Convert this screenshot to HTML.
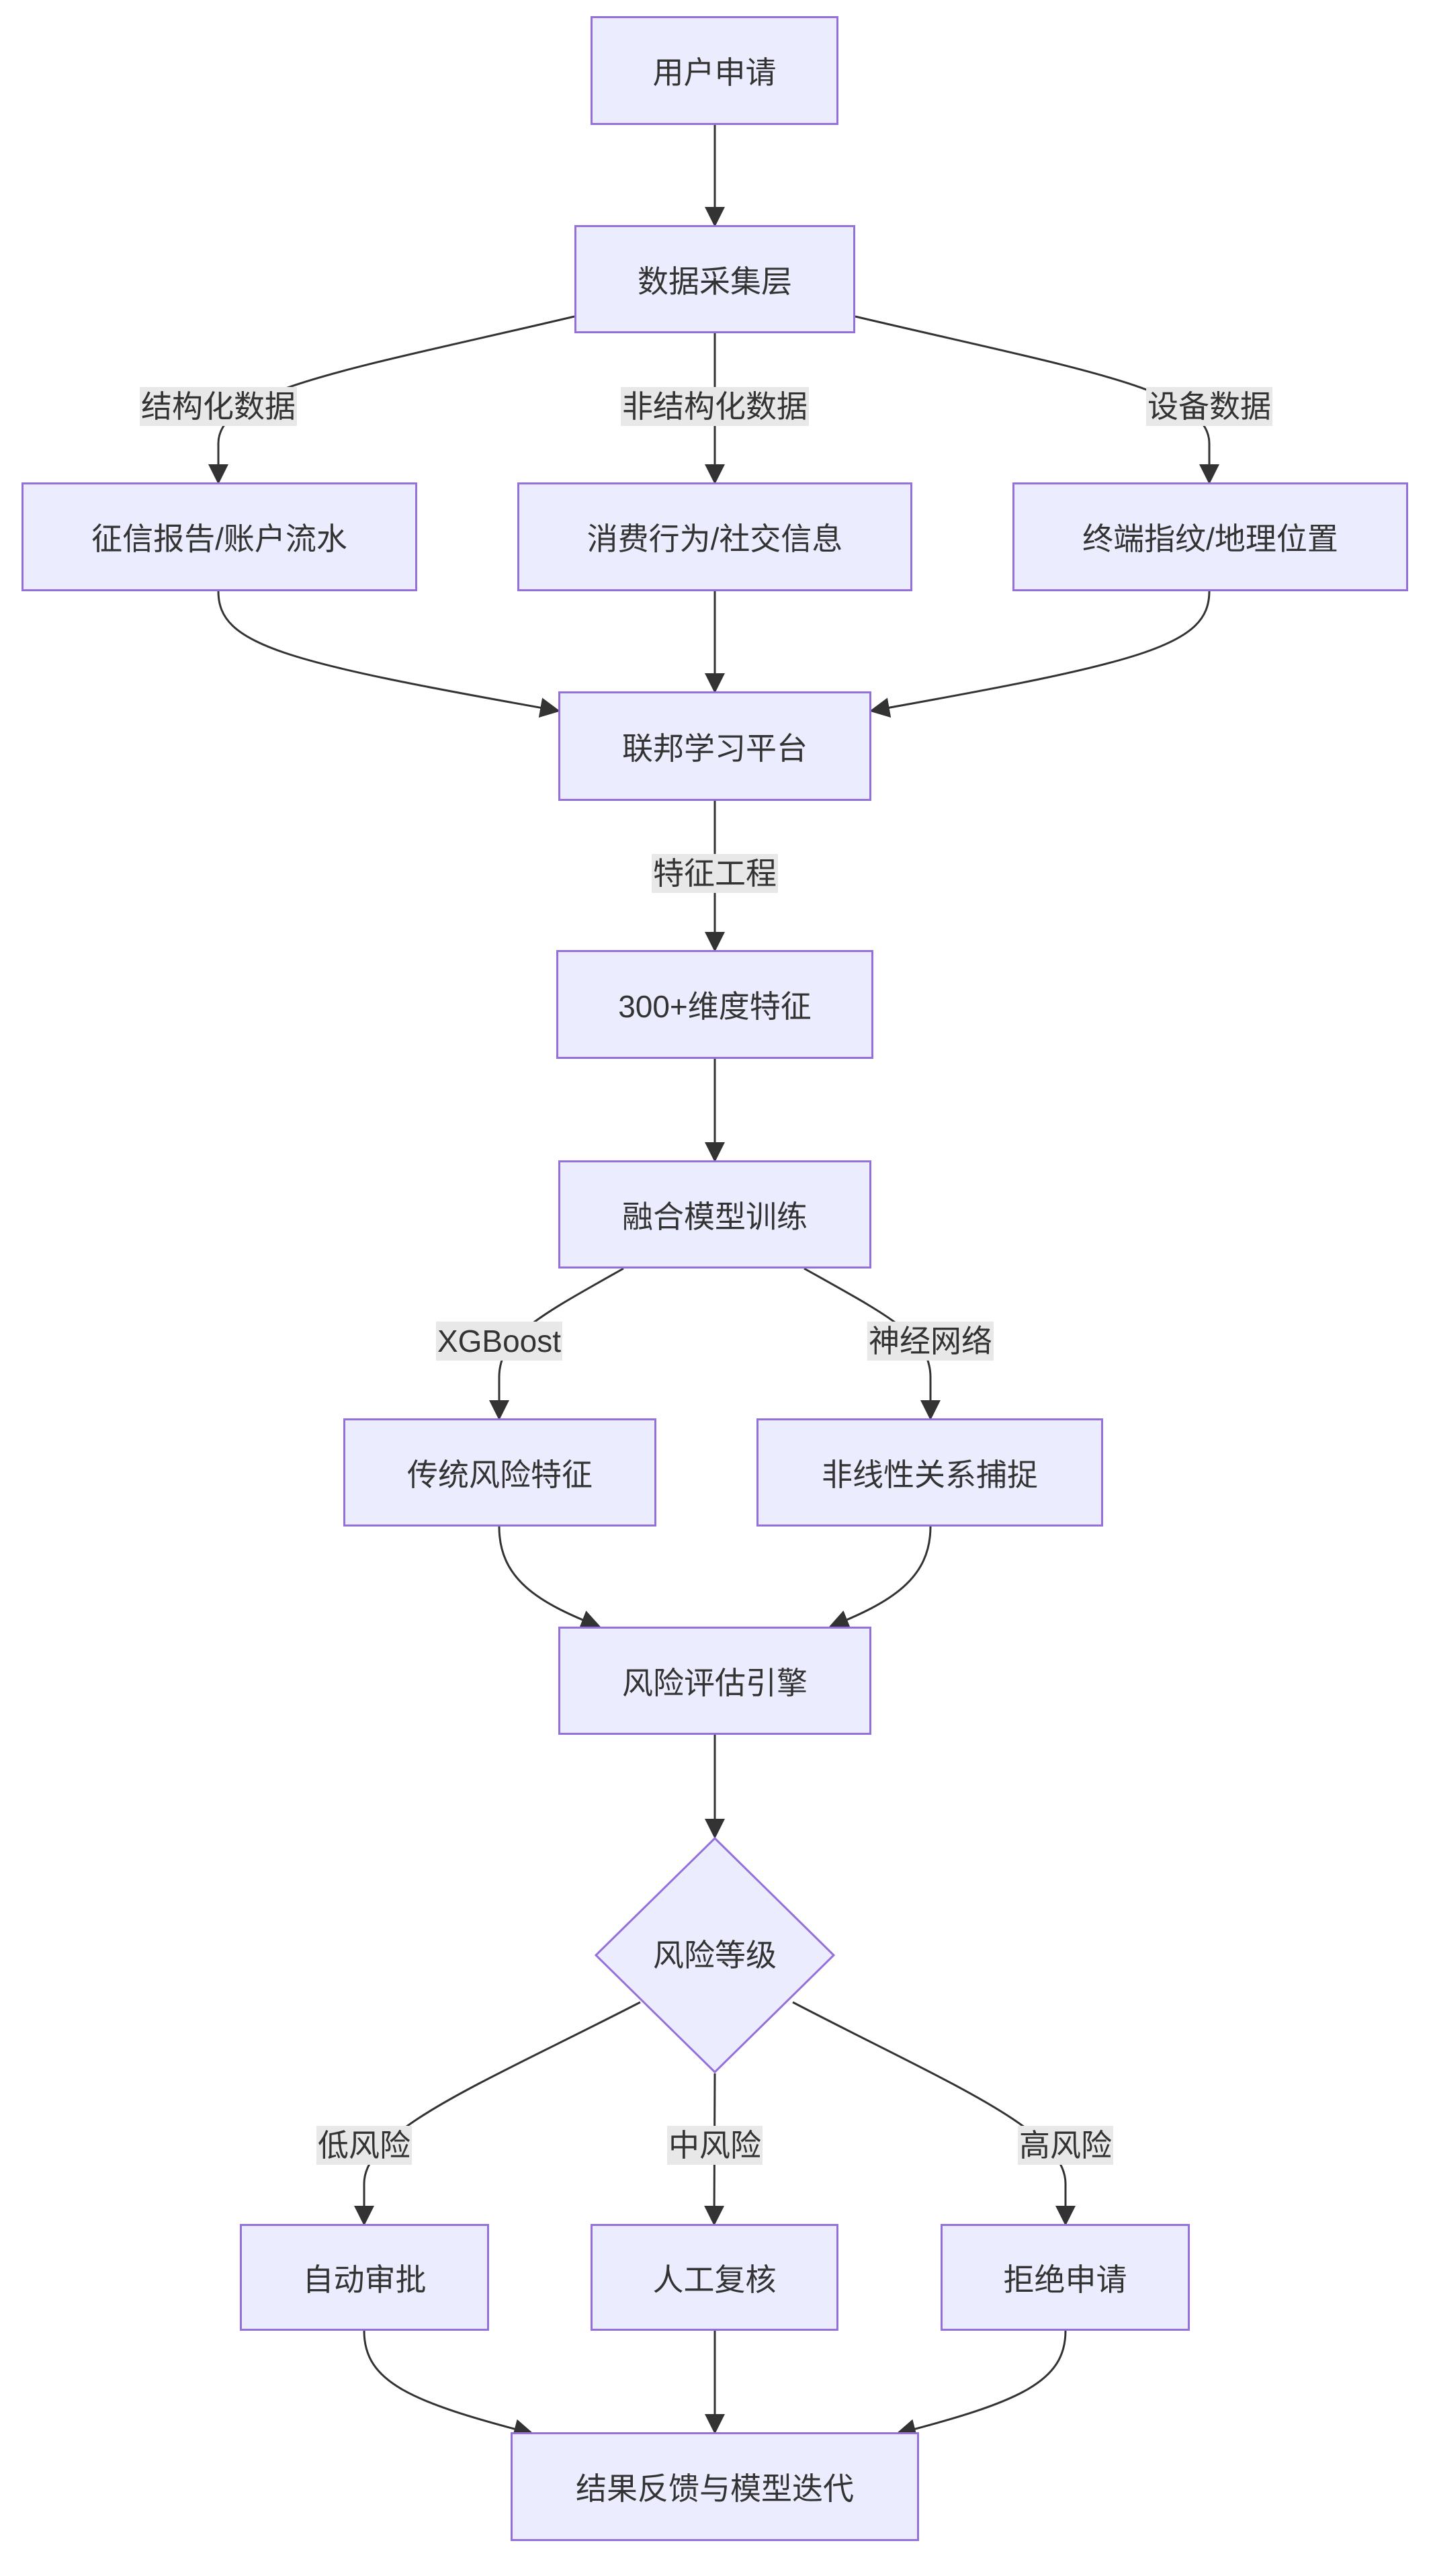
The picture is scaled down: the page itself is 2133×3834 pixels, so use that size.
<!DOCTYPE html>
<html><head><meta charset="utf-8"><style>
body{margin:0;width:2133px;height:3834px;background:#fff;position:relative;overflow:hidden;font-family:"Liberation Sans","Noto Sans CJK SC",sans-serif;color:#333}
.b{position:absolute;box-sizing:border-box;background:#ECECFF;border:3px solid #9370DB;display:flex;align-items:center;justify-content:center;font-size:46px}
.l{position:absolute;background:#e8e8e8;font-size:46px;line-height:58px;height:58px;padding:0 2px;transform:translate(-50%,-50%);white-space:nowrap}
svg{position:absolute;left:0;top:0}
</style></head><body>
<svg width="2133" height="3834">
<defs><marker id="a" viewBox="0 0 10 10" refX="9" refY="5" markerWidth="9" markerHeight="9" markerUnits="userSpaceOnUse" orient="auto"><path d="M0,0L10,5L0,10z" fill="#333"/></marker>
<marker id="m" viewBox="0 0 10 10" refX="9" refY="5" markerWidth="30" markerHeight="30" markerUnits="userSpaceOnUse" orient="auto"><path d="M0,0L10,5L0,10z" fill="#333"/></marker></defs>
<g fill="none" stroke="#333" stroke-width="3" marker-end="url(#m)">
<path d="M1064,186 L1064,335"/>
<path d="M855,471 C520,550 325,580 325,660 L325,718"/>
<path d="M1064,496 L1064,718"/>
<path d="M1273,471 C1608,550 1800,580 1800,660 L1800,718"/>
<path d="M325,880 C325,960 420,985 831,1058"/>
<path d="M1064,880 L1064,1029"/>
<path d="M1800,880 C1800,960 1706,985 1297,1058"/>
<path d="M1064,1192 L1064,1414"/>
<path d="M1064,1576 L1064,1727"/>
<path d="M928,1888 C800,1960 743,1990 743,2050 L743,2111"/>
<path d="M1197,1888 C1326,1960 1385,1990 1385,2050 L1385,2111"/>
<path d="M743,2272 C743,2350 800,2385 892,2421"/>
<path d="M1385,2272 C1385,2350 1326,2385 1236,2421"/>
<path d="M1064,2582 L1064,2734"/>
<path d="M953,2980 C720,3100 542,3170 542,3250 L542,3310"/>
<path d="M1064,3086 L1063,3310"/>
<path d="M1180,2980 C1410,3100 1586,3170 1586,3250 L1586,3310"/>
<path d="M542,3469 C542,3545 610,3575 792,3622"/>
<path d="M1064,3469 L1064,3620"/>
<path d="M1586,3469 C1586,3545 1518,3575 1336,3622"/>
</g>
<polygon points="1064,2736 1241,2910 1064,3084 887,2910" fill="#ECECFF" stroke="#9370DB" stroke-width="3"/>
<text x="1064" y="2926" font-size="46" text-anchor="middle" fill="#333" font-family="Liberation Sans, Noto Sans CJK SC, sans-serif">风险等级</text>
</svg>
<div class="b" style="left:879px;top:24px;width:369px;height:162px">用户申请</div>
<div class="b" style="left:855px;top:335px;width:418px;height:161px">数据采集层</div>
<div class="b" style="left:32px;top:718px;width:589px;height:162px">征信报告/账户流水</div>
<div class="b" style="left:770px;top:718px;width:588px;height:162px">消费行为/社交信息</div>
<div class="b" style="left:1507px;top:718px;width:589px;height:162px">终端指纹/地理位置</div>
<div class="b" style="left:831px;top:1029px;width:466px;height:163px">联邦学习平台</div>
<div class="b" style="left:828px;top:1414px;width:472px;height:162px">300+维度特征</div>
<div class="b" style="left:831px;top:1727px;width:466px;height:161px">融合模型训练</div>
<div class="b" style="left:511px;top:2111px;width:466px;height:161px">传统风险特征</div>
<div class="b" style="left:1126px;top:2111px;width:516px;height:161px">非线性关系捕捉</div>
<div class="b" style="left:831px;top:2421px;width:466px;height:161px">风险评估引擎</div>
<div class="b" style="left:357px;top:3310px;width:371px;height:159px">自动审批</div>
<div class="b" style="left:879px;top:3310px;width:369px;height:159px">人工复核</div>
<div class="b" style="left:1400px;top:3310px;width:371px;height:159px">拒绝申请</div>
<div class="b" style="left:760px;top:3620px;width:608px;height:162px">结果反馈与模型迭代</div>
<div class="l" style="left:325px;top:605px">结构化数据</div>
<div class="l" style="left:1064px;top:605px">非结构化数据</div>
<div class="l" style="left:1800px;top:605px">设备数据</div>
<div class="l" style="left:1064px;top:1300px">特征工程</div>
<div class="l" style="left:743px;top:1996px">XGBoost</div>
<div class="l" style="left:1385px;top:1996px">神经网络</div>
<div class="l" style="left:542px;top:3193px">低风险</div>
<div class="l" style="left:1064px;top:3193px">中风险</div>
<div class="l" style="left:1586px;top:3193px">高风险</div>
</body></html>
